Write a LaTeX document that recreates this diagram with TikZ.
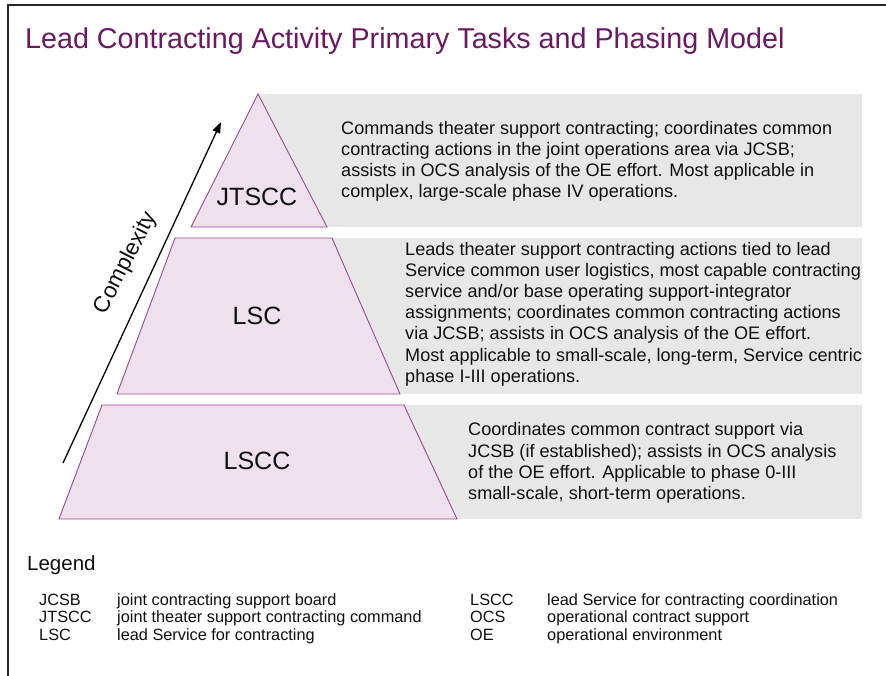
\documentclass[tikz,border=0pt]{standalone}
\usepackage{fontspec}
\setmainfont{Liberation Sans}
\usetikzlibrary{arrows.meta}
\definecolor{titlec}{HTML}{6B1A62}
\definecolor{pyrfill}{HTML}{EFE0EE}
\definecolor{pyrline}{HTML}{9A4A92}
\definecolor{boxgray}{HTML}{E7E7E8}
\definecolor{txt}{HTML}{101010}
\tikzset{
  pyr/.style={fill=pyrfill, draw=pyrline, line width=0.9pt, line join=miter},
  graybox/.style={fill=boxgray, draw=none},
  lvl/.style={font=\fontsize{25}{28}\selectfont, text=txt, inner sep=0pt},
  desc/.style={font=\fontsize{18.1}{21.2}\selectfont, text=txt, align=left, anchor=west, inner sep=0pt},
  legab/.style={font=\fontsize{16.3}{18}\selectfont, text=txt, anchor=base west, inner sep=0pt},
}
\begin{document}
\begin{tikzpicture}[x=1pt,y=-1pt]
\useasboundingbox (0,0) rectangle (886,676);
\fill[white] (0,0) rectangle (886,676);
% frame
\draw[line width=2pt, black!85] (8,676) -- (8,5) -- (886,5);
% title
\node[anchor=west, inner sep=0pt, text=titlec, font=\fontsize{28.7}{32}\selectfont] (title) at (25,41) {Lead Contracting Activity Primary Tasks and Phasing Model};
% gray boxes
\fill[graybox] (258,94) rectangle (862,227);
\fill[graybox] (258,238) rectangle (862,394);
\fill[graybox] (258,405) rectangle (862,519);
% pyramid
\filldraw[pyr] (258,94) -- (327,227) -- (191,227) -- cycle;
\filldraw[pyr] (175,238) -- (332,238) -- (400,394) -- (117,394) -- cycle;
\filldraw[pyr] (102,405) -- (404,405) -- (457,519) -- (59,519) -- cycle;
% level labels
\node[lvl] (jtscc) at (257,197) {JTSCC};
\node[lvl] (lsc) at (257,316) {LSC};
\node[lvl] (lscc) at (257,461) {LSCC};
% complexity arrow
\coordinate (cs) at (63,463);
\coordinate (ce) at (221,122);
\draw[line width=1.3pt, -{Triangle[length=11pt,width=8pt]}] (cs) -- (ce);
\node[rotate=63, inner sep=0pt, text=txt, font=\fontsize{22.5}{25}\selectfont] (cx) at (126,263) {Complexity};
% descriptions
\node[desc] (d1) at (341,161.5) {Commands theater support contracting; coordinates common\\contracting actions in the joint operations area via JCSB;\\assists in OCS analysis of the OE effort. Most applicable in\\complex, large-scale phase IV operations.};
\node[desc] (d2) at (405,314) {Leads theater support contracting actions tied to lead\\Service common user logistics, most capable contracting\\service and/or base operating support-integrator\\assignments; coordinates common contracting actions\\via JCSB; assists in OCS analysis of the OE effort.\\Most applicable to small-scale, long-term, Service centric\\phase I-III operations.};
\node[desc] (d3) at (468,463) {Coordinates common contract support via\\JCSB (if established); assists in OCS analysis\\of the OE effort. Applicable to phase 0-III\\small-scale, short-term operations.};
% legend
\node[anchor=base west, inner sep=0pt, text=txt, font=\fontsize{20.5}{24}\selectfont] (legend) at (27,570) {Legend};
\node[legab] (a1) at (39,605) {JCSB};
\node[legab] (b1) at (117,605) {joint contracting support board};
\node[legab] (a2) at (39,622.5) {JTSCC};
\node[legab] (b2) at (117,622.5) {joint theater support contracting command};
\node[legab] (a3) at (39,640) {LSC};
\node[legab] (b3) at (117,640) {lead Service for contracting};
\node[legab] (a4) at (470,605) {LSCC};
\node[legab] (b4) at (547,605) {lead Service for contracting coordination};
\node[legab] (a5) at (470,622.5) {OCS};
\node[legab] (b5) at (547,622.5) {operational contract support};
\node[legab] (a6) at (470,640) {OE};
\node[legab] (b6) at (547,640) {operational environment};
\end{tikzpicture}
\end{document}
